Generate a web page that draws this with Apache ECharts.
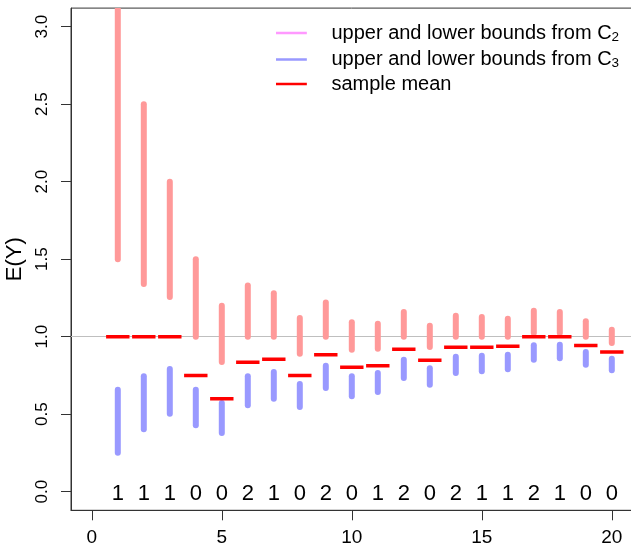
<!DOCTYPE html>
<html>
<head>
<meta charset="utf-8">
<script src="https://cdn.jsdelivr.net/npm/echarts@6/dist/echarts.min.js"></script>
<style>
html,body{margin:0;padding:0;background:#fff;}
#chart{width:631px;height:548px;}
</style>
</head>
<body>
<div id="chart"></div>
<script>
// ---- data ----
const xs = [1,2,3,4,5,6,7,8,9,10,11,12,13,14,15,16,17,18,19,20];
const c2Upper = [3.5,2.5,2.0,1.5,1.2,1.33,1.28,1.12,1.22,1.093,1.084,1.16,1.071,1.135,1.127,1.116,1.168,1.159,1.099,1.045];
const c2Lower = [1.5,1.34,1.256,1.0,0.837,1.0,1.0,0.89,1.0,0.916,0.923,1.0,0.934,1.0,1.0,1.0,1.024,1.024,1.0,0.959];
const c3Upper = [0.658,0.745,0.792,0.658,0.572,0.745,0.772,0.695,0.813,0.745,0.766,0.852,0.796,0.871,0.877,0.884,0.945,0.948,0.901,0.858];
const c3Lower = [0.252,0.403,0.503,0.428,0.379,0.557,0.6,0.546,0.669,0.616,0.643,0.734,0.69,0.766,0.777,0.79,0.852,0.861,0.819,0.784];
const sampleMean = [1.0,1.0,1.0,0.75,0.6,0.835,0.854,0.75,0.884,0.803,0.813,0.919,0.848,0.932,0.932,0.938,1.0,1.0,0.944,0.901];
const counts = [1,1,1,0,0,2,1,0,2,0,1,2,0,2,1,1,2,1,0,0];
const xTicks = [0,5,10,15,20];
const yTicks = [0,0.5,1.0,1.5,2.0,2.5,3.0];
const seriesNames = ['upper and lower bounds from C2','upper and lower bounds from C3','sample mean'];

const FONT = 'Liberation Sans, Arial, Helvetica, sans-serif';
const chart = echarts.init(document.getElementById('chart'), null, {renderer:'canvas'});

function rangeSeries(name, lower, upper, barColor, legendColor){
  return {
    name: name, type: 'custom', clip: true,
    itemStyle: {color: legendColor},
    encode: {x: 0, y: [1, 2]},
    data: xs.map((x, i) => [x, lower[i], upper[i]]),
    renderItem: function(params, api){
      const p1 = api.coord([api.value(0), api.value(1)]);
      const p2 = api.coord([api.value(0), api.value(2)]);
      return {type:'line', shape:{x1:p1[0], y1:p1[1], x2:p2[0], y2:p2[1]},
        style:{stroke: barColor, lineWidth: 6, lineCap:'round'}};
    },
    z: 2
  };
}

const legendIcon = 'path://M0,0H37V3H0Z M55,0L55,3Z';

const option = {
  animation: false,
  backgroundColor: '#fff',
  grid: {left: 71, top: 8.1, width: 561.6, height: 502.2, show: true,
    outerBoundsMode: 'none', containLabel: false,
    borderColor: '#333', borderWidth: 1, backgroundColor: 'transparent'},
  xAxis: {
    type: 'value', min: -0.8, max: 20.8,
    axisLine: {show: true, onZero: false, lineStyle: {color: '#333', width: 1}},
    axisTick: {show: true, length: 10, inside: false, customValues: xTicks, lineStyle: {color: '#333'}},
    axisLabel: {customValues: xTicks, margin: 18, color: '#000', fontSize: 19, fontFamily: FONT,
      formatter: v => String(v)},
    splitLine: {show: false}
  },
  yAxis: {
    type: 'value', min: -0.12, max: 3.12,
    name: 'E(Y)', nameLocation: 'middle', nameRotate: 90, nameGap: 41,
    nameTextStyle: {fontSize: 22, color: '#000', fontFamily: FONT},
    axisLine: {show: true, onZero: false, lineStyle: {color: '#333', width: 1}},
    axisTick: {show: true, length: 10, inside: false, customValues: yTicks, lineStyle: {color: '#333'}},
    axisLabel: {customValues: yTicks, rotate: 90, margin: 20, color: '#000', fontSize: 17, fontFamily: FONT,
      formatter: v => v.toFixed(1)},
    splitLine: {show: false}
  },
  legend: {
    left: 276, top: 20, orient: 'vertical', padding: 0, itemGap: 2.5,
    itemWidth: 55, itemHeight: 2.5, icon: legendIcon,
    data: seriesNames,
    textStyle: {fontSize: 20, lineHeight: 22, color: '#000', fontFamily: FONT,
      rich: {
        n: {fontSize: 20, lineHeight: 22, color: '#000', fontFamily: FONT},
        s: {fontSize: 13.5, lineHeight: 22, color: '#000', fontFamily: FONT, verticalAlign: 'bottom', padding: [10,0,0,0]}
      }},
    formatter: function(name){
      const m = name.match(/^(.*C)(\d)$/);
      if (m) return '{n|' + m[1] + '}{s|' + m[2] + '}';
      return '{n|' + name + '}';
    }
  },
  series: [
    Object.assign(rangeSeries(seriesNames[0], c2Lower, c2Upper, '#ff9999', '#ff99ff'), {
      markLine: {silent: true, symbol: 'none', label: {show: false},
        lineStyle: {color: '#bfbfbf', width: 1, type: 'solid'}, data: [{yAxis: 1}], z: 1}
    }),
    rangeSeries(seriesNames[1], c3Lower, c3Upper, '#9999ff', '#9999ff'),
    {
      name: seriesNames[2], type: 'custom', clip: true,
      itemStyle: {color: '#ff0000'},
      encode: {x: 0, y: 1},
      data: xs.map((x, i) => [x, sampleMean[i]]),
      renderItem: function(params, api){
        const x = api.value(0), y = api.value(1);
        const p1 = api.coord([x - 0.45, y]);
        const p2 = api.coord([x + 0.45, y]);
        return {type:'line', shape:{x1:p1[0], y1:p1[1], x2:p2[0], y2:p2[1]},
          style:{stroke:'#ff0000', lineWidth: 3.5, lineCap:'butt'}};
      },
      z: 3
    },
    {
      name: 'counts', type: 'custom',
      encode: {x: 0, y: 1},
      data: xs.map((x, i) => [x, 0, counts[i]]),
      renderItem: function(params, api){
        const p = api.coord([api.value(0), api.value(1)]);
        return {type:'text', x: p[0], y: p[1] + 2,
          style:{text: String(api.value(2)), fill:'#000', fontSize: 22, fontFamily: FONT,
            align:'center', verticalAlign:'middle'}};
      },
      z: 3
    }
  ]
};
chart.setOption(option);
</script>
</body>
</html>
